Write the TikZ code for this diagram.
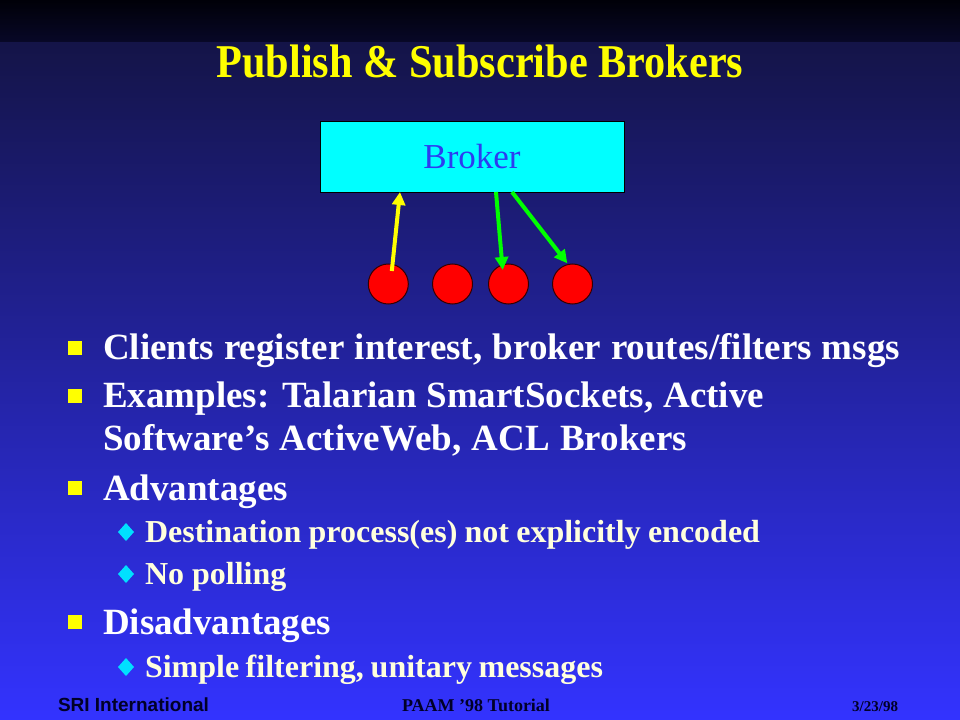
\documentclass[tikz,border=0pt]{standalone}
\usepackage{fontspec}
\setmainfont{Liberation Serif}
\setsansfont{Liberation Sans}
\usetikzlibrary{arrows.meta,shapes.geometric,calc}

\definecolor{stripdark}{RGB}{0,0,8}
\definecolor{stripnavy}{RGB}{8,8,40}
\definecolor{slidetop}{RGB}{20,20,72}
\definecolor{slidebot}{RGB}{51,51,255}
\definecolor{brokerfill}{RGB}{0,255,255}
\definecolor{brokerblue}{RGB}{45,60,240}
\definecolor{ivory}{RGB}{255,255,221}
\definecolor{hiyellow}{RGB}{255,255,0}
\definecolor{higreen}{RGB}{0,255,0}
\definecolor{clientred}{RGB}{255,0,0}
\definecolor{bulletcyan}{RGB}{0,224,255}
\definecolor{footink}{RGB}{0,0,40}

\tikzset{
  every node/.style={inner sep=0pt, outer sep=0pt},
  heading/.style={text=hiyellow, anchor=base, font=\bfseries\fontsize{47bp}{54bp}\selectfont},
  bulletline/.style={anchor=base west, text=white, font=\bfseries\fontsize{37bp}{44bp}\selectfont},
  subline/.style={anchor=base west, text=ivory, font=\bfseries\fontsize{32bp}{38bp}\selectfont},
  sqbullet/.style={fill=hiyellow, minimum size=14bp},
  dmbullet/.style={diamond, fill=bulletcyan, minimum width=16bp, minimum height=18bp},
  brokerbox/.style={fill=brokerfill, draw=black, line width=0.8bp, minimum width=304bp, minimum height=71bp,
    text=brokerblue, font=\fontsize{35bp}{40bp}\selectfont},
  client/.style={circle, fill=clientred, draw=black!80!red, line width=1bp, minimum size=40bp},
  pubarrow/.style={hiyellow, line width=4bp, -{Triangle[length=13bp,width=13bp]}},
  subarrow/.style={higreen, line width=4bp, -{Triangle[length=13bp,width=13bp]}},
  footer/.style={text=footink, anchor=base west}
}

\begin{document}
\begin{tikzpicture}[x=1bp, y=-1bp]
  \useasboundingbox (0,0) rectangle (960,720);
  % slide background
  \shade[top color=stripdark, bottom color=stripnavy] (0,0) rectangle (960,43);
  \shade[top color=slidetop, bottom color=slidebot] (0,43) rectangle (960,720);

  \node[heading] (title) at (480,78) {\scalebox{0.9}[1]{Publish \& Subscribe Brokers}};

  % broker and clients
  \node[brokerbox] (broker) at (472,156.5) {Broker};
  \node[client] (c1) at (388.3,284) {};
  \node[client] (c2) at (452.5,284) {};
  \node[client] (c3) at (508.5,284) {};
  \node[client] (c4) at (572.5,284) {};
  \coordinate (pubin) at (400,192);
  \coordinate (subout1) at (496,192);
  \coordinate (subout2) at (512,192);

  \draw[pubarrow] ($(c1)+(3.5,-13)$) -- (pubin);
  \draw[subarrow] (subout1) -- ($(c3)+(-5.8,-14)$);
  \draw[subarrow] (subout2) -- ($(c4)+(-5.2,-20.7)$);

  % bullet list
  \node[sqbullet] (b1) at (75,348) {};
  \node[bulletline] (t1) at (103,359) {\makebox[797bp][s]{Clients register interest, broker routes/filters msgs}};
  \node[sqbullet] (b2) at (75,396) {};
  \node[bulletline] (t2) at (103,407) {\makebox[661bp][s]{Examples: Talarian SmartSockets, Active}};
  \node[bulletline] (t2b) at (103,450) {\makebox[584bp][s]{Software’s ActiveWeb, ACL Brokers}};
  \node[sqbullet] (b3) at (75,488) {};
  \node[bulletline] (t3) at (103,500) {Advantages};
  \node[dmbullet] (d1) at (126,532) {};
  \node[subline] (s1) at (145,542) {\makebox[615bp][s]{Destination process(es) not explicitly encoded}};
  \node[dmbullet] (d2) at (126,574) {};
  \node[subline] (s2) at (145,584) {No polling};
  \node[sqbullet] (b4) at (75,622) {};
  \node[bulletline] (t4) at (103,634) {Disadvantages};
  \node[dmbullet] (d3) at (126,667) {};
  \node[subline] (s3) at (145,677) {\makebox[458bp][s]{Simple filtering, unitary messages}};

  % footer
  \node[footer, font=\sffamily\bfseries\fontsize{19bp}{22bp}\selectfont] (sri) at (58,711) {SRI International};
  \node[footer, font=\bfseries\fontsize{18bp}{21bp}\selectfont] (paam) at (402,711) {PAAM ’98 Tutorial};
  \node[footer, font=\bfseries\fontsize{15bp}{18bp}\selectfont, anchor=base east] (date) at (898,711) {3/23/98};
\end{tikzpicture}
\end{document}
